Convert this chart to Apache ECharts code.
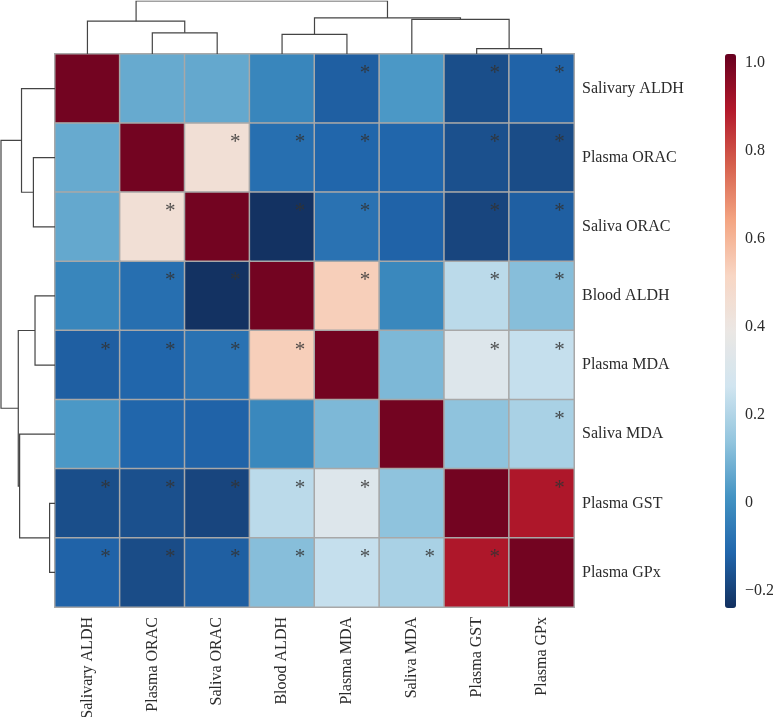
<!DOCTYPE html>
<html>
<head>
<meta charset="utf-8">
<script src="https://cdn.jsdelivr.net/npm/echarts@6.0.0/dist/echarts.min.js"></script>
<style>
  html, body { margin: 0; padding: 0; background: #fff; }
  #chart { width: 773px; height: 717px; }
</style>
</head>
<body>
<div id="chart"></div>
<script>
// variables in clustered order (same for rows and columns)
const labels = ['Salivary ALDH', 'Plasma ORAC', 'Saliva ORAC', 'Blood ALDH',
                'Plasma MDA', 'Saliva MDA', 'Plasma GST', 'Plasma GPx'];

// correlation matrix
const rowSalivaryALDH = [1.00, 0.07, 0.065, -0.025, -0.13, 0.025, -0.17, -0.12];
const rowPlasmaORAC   = [0.07, 1.00, 0.45, -0.09, -0.115, -0.115, -0.165, -0.175];
const rowSalivaORAC   = [0.065, 0.45, 1.00, -0.235, -0.08, -0.12, -0.19, -0.13];
const rowBloodALDH    = [-0.025, -0.09, -0.235, 1.00, 0.535, -0.02, 0.22, 0.12];
const rowPlasmaMDA    = [-0.13, -0.115, -0.08, 0.535, 1.00, 0.105, 0.32, 0.24];
const rowSalivaMDA    = [0.025, -0.115, -0.12, -0.02, 0.105, 1.00, 0.133, 0.185];
const rowPlasmaGST    = [-0.17, -0.165, -0.19, 0.22, 0.32, 0.133, 1.00, 0.90];
const rowPlasmaGPx    = [-0.12, -0.175, -0.13, 0.12, 0.24, 0.185, 0.90, 1.00];
const matrix = [rowSalivaryALDH, rowPlasmaORAC, rowSalivaORAC, rowBloodALDH,
                rowPlasmaMDA, rowSalivaMDA, rowPlasmaGST, rowPlasmaGPx];

// significant cells (row, col)
const starCells = [
  [0, 4], [0, 6], [0, 7],
  [1, 2], [1, 3], [1, 4], [1, 6], [1, 7],
  [2, 1], [2, 3], [2, 4], [2, 6], [2, 7],
  [3, 1], [3, 2], [3, 4], [3, 6], [3, 7],
  [4, 0], [4, 1], [4, 2], [4, 3], [4, 6], [4, 7],
  [5, 7],
  [6, 0], [6, 1], [6, 2], [6, 3], [6, 4], [6, 7],
  [7, 0], [7, 1], [7, 2], [7, 3], [7, 4], [7, 5], [7, 6]
];

// hierarchical clustering: [childA, childB, height], new node ids start at 8
const merges = [
  [6, 7, 0.10],
  [3, 4, 0.37],
  [1, 2, 0.40],
  [0, 10, 0.62],
  [5, 8, 0.655],
  [9, 12, 0.68],
  [11, 13, 1.00]
];

// colour scale (RdBu reversed, toned like the printed figure)
const colorMin = -0.24;
const colorMax = 1.02;
const colorTicks = [-0.2, 0, 0.2, 0.4, 0.6, 0.8, 1.0];
const rdbu = ['#12305f', '#2166ac', '#4393c3', '#92c5de', '#d1e5f0', '#ebe7e4',
              '#f8d6c4', '#f4a582', '#d6604d', '#b2182b', '#67001f'];

const heatData = [];
matrix.forEach((row, r) => row.forEach((v, c) => heatData.push([c, r, v])));
const starData = starCells.map(p => [p[1], p[0]]);

// build dendrogram segments from the merges
function dendroSegments(swap) {
  const nodes = labels.map((l, i) => ({ pos: i + 0.5, h: 0 }));
  const segs = [];
  merges.forEach(m => {
    const a = nodes[m[0]], b = nodes[m[1]], h = m[2];
    let pts = [[a.pos, a.h], [a.pos, h], [b.pos, h], [b.pos, b.h]];
    if (swap) pts = pts.map(p => [p[1], p[0]]);
    segs.push({ coords: pts });
    nodes.push({ pos: (a.pos + b.pos) / 2, h: h });
  });
  return segs;
}

const serif = '"Liberation Serif", "DejaVu Serif", serif';
const chart = echarts.init(document.getElementById('chart'));

const hidden = { show: false };

chart.setOption({
  animation: false,
  backgroundColor: '#fff',
  grid: [
    { left: 55, top: 54, width: 519, height: 553, outerBoundsMode: 'none' },   // heatmap
    { left: 725, top: 54, width: 11, height: 554, outerBoundsMode: 'none' },   // colour bar axis
    { left: 55, top: 1, width: 519, height: 53, outerBoundsMode: 'none' },     // top dendrogram
    { left: 1, top: 54, width: 54, height: 553, outerBoundsMode: 'none' }      // left dendrogram
  ],
  xAxis: [
    {
      gridIndex: 0, type: 'category', data: labels, position: 'bottom',
      axisLine: hidden, axisTick: hidden, splitArea: hidden, splitLine: hidden,
      axisLabel: { rotate: 90, margin: 10, fontFamily: serif, fontSize: 16, color: '#2b2b2b' }
    },
    { gridIndex: 1, type: 'value', show: false },
    { gridIndex: 2, type: 'value', min: 0, max: 8, show: false },
    { gridIndex: 3, type: 'value', min: 0, max: 1, inverse: true, show: false }
  ],
  yAxis: [
    {
      gridIndex: 0, type: 'category', data: labels, inverse: true, position: 'right',
      axisLine: hidden, axisTick: hidden, splitArea: hidden, splitLine: hidden,
      axisLabel: { margin: 8, fontFamily: serif, fontSize: 16, color: '#2b2b2b' }
    },
    {
      gridIndex: 1, type: 'value', min: colorMin, max: colorMax, position: 'right',
      axisLine: hidden, axisTick: hidden, splitLine: hidden,
      axisLabel: {
        customValues: colorTicks, margin: 9, fontFamily: serif, fontSize: 16, color: '#2b2b2b',
        formatter: v => {
          if (Math.abs(v) < 1e-9) return '0';
          return (v < 0 ? '\u2212' : '') + Math.abs(v).toFixed(1);
        }
      }
    },
    { gridIndex: 2, type: 'value', min: 0, max: 1, show: false },
    { gridIndex: 3, type: 'value', min: 0, max: 8, inverse: true, show: false }
  ],
  visualMap: {
    type: 'continuous',
    min: colorMin,
    max: colorMax,
    seriesIndex: 0,
    calculable: false,
    orient: 'vertical',
    left: 725,
    top: 54,
    padding: 0,
    itemWidth: 11,
    itemHeight: 554,
    text: null,
    inRange: { color: rdbu }
  },
  series: [
    {
      type: 'heatmap',
      xAxisIndex: 0, yAxisIndex: 0,
      data: heatData,
      itemStyle: { borderColor: '#a8a8a8', borderWidth: 1.5 },
      emphasis: { disabled: true }
    },
    {
      type: 'scatter',
      xAxisIndex: 0, yAxisIndex: 0,
      data: starData,
      symbolSize: 1,
      itemStyle: { opacity: 0 },
      silent: true,
      label: {
        show: true, formatter: '*', position: 'inside', offset: [18, -15],
        fontFamily: serif, fontSize: 21, color: '#333', opacity: 0.85
      }
    },
    {
      type: 'lines',
      coordinateSystem: 'cartesian2d',
      xAxisIndex: 2, yAxisIndex: 2,
      polyline: true,
      silent: true,
      data: dendroSegments(false),
      lineStyle: { color: '#444', width: 1.2, opacity: 1 }
    },
    {
      type: 'lines',
      coordinateSystem: 'cartesian2d',
      xAxisIndex: 3, yAxisIndex: 3,
      polyline: true,
      silent: true,
      data: dendroSegments(true),
      lineStyle: { color: '#444', width: 1.2, opacity: 1 }
    }
  ]
});
</script>
</body>
</html>
